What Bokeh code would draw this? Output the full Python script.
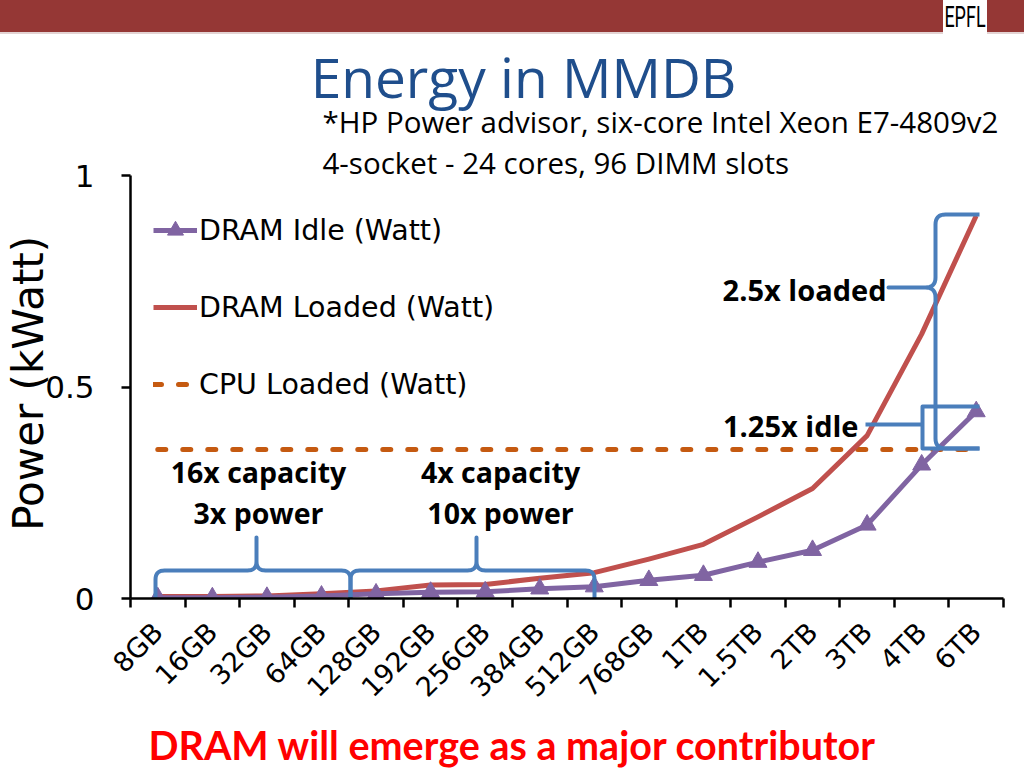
import math
from bokeh.plotting import figure
from bokeh.layouts import column
from bokeh.models import (Range1d, FixedTicker, NumeralTickFormatter, Label,
                          Legend, LegendItem, ColumnDataSource, Div)
from bokeh.embed import file_html
from bokeh.resources import INLINE
from bokeh.core.properties import value

# ---------------- data ----------------
capacities = ["8GB", "16GB", "32GB", "64GB", "128GB", "192GB", "256GB", "384GB",
              "512GB", "768GB", "1TB", "1.5TB", "2TB", "3TB", "4TB", "6TB"]
dram_idle = [0.002, 0.002, 0.003, 0.006, 0.011, 0.015, 0.016, 0.023,
             0.028, 0.043, 0.055, 0.086, 0.114, 0.174, 0.316, 0.442]
dram_loaded = [0.005, 0.005, 0.006, 0.011, 0.018, 0.032, 0.033, 0.048,
               0.061, 0.093, 0.128, 0.193, 0.260, 0.385, 0.625, 0.905]
cpu_loaded = [0.352, 0.352, 0.352, 0.352, 0.352, 0.352, 0.352, 0.352,
              0.352, 0.352, 0.352, 0.352, 0.352, 0.352, 0.352, 0.352]
y_ticks = [0, 0.5, 1]
y_tick_labels = ["0", "0.5", "1"]

# ---------------- layout helpers (page pixels) ----------------
PW = 1024
HEAD_H = 34          # header strip (slide bar + logo)
FOOT_TOP = 720       # footer strip start
FL, FR, FT, FB = 130, 1003, 175, 598   # plot axes box on the page
N = len(capacities)


def rx(X):
    """page pixel x -> data x of main chart"""
    return (X - FL) / (FR - FL) * N - 0.5


def ry(Y):
    """page pixel y -> data y of main chart"""
    return (FB - Y) / (FB - FT)


def quad(p0, c, p1, n=8):
    pts = []
    for i in range(1, n + 1):
        t = i / n
        x = (1 - t) ** 2 * p0[0] + 2 * (1 - t) * t * c[0] + t ** 2 * p1[0]
        y = (1 - t) ** 2 * p0[1] + 2 * (1 - t) * t * c[1] + t ** 2 * p1[1]
        pts.append((x, y))
    return pts


def hbrace(x0, x1, xm, yl, yend, ytip, r=9):
    pts = [(x0, yend), (x0, yl + r)]
    pts += quad((x0, yl + r), (x0, yl), (x0 + r, yl))
    pts.append((xm - r, yl))
    pts += quad((xm - r, yl), (xm, yl), (xm, yl - r))
    pts.append((xm, ytip))
    pts.append((xm, yl - r))
    pts += quad((xm, yl - r), (xm, yl), (xm + r, yl))
    pts.append((x1 - r, yl))
    pts += quad((x1 - r, yl), (x1, yl), (x1, yl + r))
    pts.append((x1, yend))
    return [rx(p[0]) for p in pts], [ry(p[1]) for p in pts]


def vbrace(xl, xend, ytop, ybot, ym, xtip, r=10):
    pts = [(xend, ytop), (xl + r, ytop)]
    pts += quad((xl + r, ytop), (xl, ytop), (xl, ytop + r))
    pts.append((xl, ym - r))
    pts += quad((xl, ym - r), (xl, ym), (xl - r, ym))
    pts.append((xtip, ym))
    pts.append((xl - r, ym))
    pts += quad((xl - r, ym), (xl, ym), (xl, ym + r))
    pts.append((xl, ybot - r))
    pts += quad((xl, ybot - r), (xl, ybot), (xl + r, ybot))
    pts.append((xend, ybot))
    return [rx(p[0]) for p in pts], [ry(p[1]) for p in pts]


AXIS_FONT = "DejaVu Sans"
CAL_FONT = "Open Sans"
PURPLE, RED, ORANGE, BLUE = "#8064A2", "#C0504D", "#C55A11", "#4A7EBB"
BAR = "#953735"

# ---------------- header: slide bar + logo (plain HTML strip) ----------------
head_html = (
    '<div style="position:relative;width:{pw}px;height:{hh}px;'
    'background:#ffffff;margin:0;padding:0;overflow:hidden">'
    '<div style="position:absolute;left:0;top:0;width:{pw}px;height:32px;'
    'background:{bar}"></div>'
    '<div style="position:absolute;left:0;top:32px;width:{pw}px;height:2px;'
    'background:#E3D3D3"></div>'
    '<div style="position:absolute;left:943px;top:0;width:44px;height:34px;'
    'background:#ffffff;color:#000;font:18px Roboto;text-align:center;'
    'line-height:34px">'
    '<span style="display:inline-block;line-height:20px;'
    'transform:scale(1,1.6);transform-origin:center">EPFL</span></div>'
    '</div>'
).format(pw=PW, hh=HEAD_H, bar=BAR)
head = Div(text=head_html, width=PW, height=HEAD_H, margin=0)

# ---------------- main chart ----------------
MAIN_H = FOOT_TOP - HEAD_H
p = figure(width=PW, height=MAIN_H, output_backend="svg", toolbar_location=None,
           x_range=Range1d(-0.5, N - 0.5), y_range=Range1d(0, ry(HEAD_H)),
           min_border_left=FL, min_border_right=PW - FR,
           min_border_top=0, min_border_bottom=FOOT_TOP - FB)
p.outline_line_color = None
p.xgrid.visible = False
p.ygrid.visible = False
p.background_fill_color = "white"
p.border_fill_color = "white"

src = ColumnDataSource(dict(x=list(range(N)), idle=dram_idle,
                            loaded=dram_loaded, cpu=cpu_loaded))

# x axis: labels at category centres, tick marks at category boundaries
xa = p.xaxis[0]
xa.ticker = FixedTicker(ticks=list(range(N)),
                        minor_ticks=[i - 0.5 for i in range(N + 1)])
xa.major_label_overrides = {i: c for i, c in enumerate(capacities)}
xa.major_label_orientation = math.pi / 4
xa.major_tick_line_color = None
xa.major_tick_out = 0
xa.major_tick_in = 0
xa.minor_tick_out = 9
xa.minor_tick_in = 0
xa.minor_tick_line_width = 2.5
xa.minor_tick_line_color = "black"
xa.axis_line_width = 2.5
xa.axis_line_color = "black"
xa.major_label_standoff = 20
xa.major_label_text_font = AXIS_FONT
xa.major_label_text_font_size = "27px"
xa.major_label_text_color = "black"

# y axis (line limited to 0..1; area above holds the slide title)
ya = p.yaxis[0]
ya.bounds = (0, 1)
ya.ticker = FixedTicker(ticks=y_ticks)
ya.major_label_overrides = {t: s for t, s in zip(y_ticks, y_tick_labels)}
ya.formatter = NumeralTickFormatter(format="0.[0]")
ya.minor_tick_line_color = None
ya.major_tick_out = 9
ya.major_tick_in = 0
ya.major_tick_line_width = 2.5
ya.major_tick_line_color = "black"
ya.axis_line_width = 2.5
ya.axis_line_color = "black"
ya.major_label_standoff = 27
ya.major_label_text_font = AXIS_FONT
ya.major_label_text_font_size = "31px"
ya.major_label_text_color = "black"
# trailing no-break spaces shift the centred title down to the 0..1 span
ya.axis_label = "Power (kWatt)" + "\u00a0" * 10
ya.axis_label_text_font = AXIS_FONT
ya.axis_label_text_font_size = "42px"
ya.axis_label_text_font_style = "normal"
ya.axis_label_text_color = "black"
ya.axis_label_standoff = -11

# series
r_cpu = p.line("x", "cpu", source=src, line_color=ORANGE, line_width=5,
               line_dash="8 17", line_cap="round")
r_loaded = p.line("x", "loaded", source=src, line_color=RED, line_width=5,
                  line_join="round")
r_idle = p.line("x", "idle", source=src, line_color=PURPLE, line_width=5,
                line_join="round")
r_idle_m = p.scatter("x", "idle", source=src, marker="triangle", size=18,
                     fill_color=PURPLE, line_color=PURPLE)

legend = Legend(items=[
    LegendItem(label="DRAM Idle (Watt)", renderers=[r_idle, r_idle_m]),
    LegendItem(label="DRAM Loaded (Watt)", renderers=[r_loaded]),
    LegendItem(label="CPU Loaded (Watt)", renderers=[r_cpu]),
], location=(23, 194), padding=0, margin=0, spacing=37,
    label_height=40, glyph_height=40, glyph_width=44, label_standoff=2,
    border_line_color=None, background_fill_alpha=0,
    label_text_font=AXIS_FONT, label_text_font_size="28.5px",
    label_text_color="black")
p.add_layout(legend)

# braces
bx, by = [], []
for args in [(155, 350, 256, 570, 601, 537), (350, 594, 476, 570, 601, 537)]:
    xs, ys = hbrace(*args)
    bx.append(xs)
    by.append(ys)
xs, ys = vbrace(935, 979, 214, 448, 287, 888)
bx.append(xs)
by.append(ys)
bx.append([rx(979), rx(922), rx(922), rx(979)])
by.append([ry(406), ry(406), ry(448), ry(448)])
bx.append([rx(865), rx(922)])
by.append([ry(424), ry(424)])
p.multi_line(bx, by, line_color=BLUE, line_width=4, line_join="round")


def add_label(X, Y, text, size, align="center", color="black", bold=True,
              font=CAL_FONT):
    p.add_layout(Label(x=rx(X), y=ry(Y), text=text, text_align=align,
                       text_baseline="middle", text_font=font,
                       text_font_size=size, text_color=color,
                       text_font_style="bold" if bold else "normal"))


add_label(886, 289, "2.5x loaded", "29px", align="right")
add_label(858, 425, "1.25x idle", "29px", align="right")
add_label(258, 471, "16x capacity", "28.5px")
add_label(258, 512, "3x power", "28.5px")
add_label(500, 471, "4x capacity", "28.5px")
add_label(500, 512, "10x power", "28.5px")

# slide title and note (upper part of the chart area)
add_label(523, 76, "Energy in MMDB", "55px", color="#1F4E8C", bold=False)
add_label(322, 121, "*HP Power advisor, six-core Intel Xeon E7-4809v2", "29.5px",
          align="left", bold=False)
add_label(322, 162, "4-socket - 24 cores, 96 DIMM slots", "29.5px",
          align="left", bold=False)

# ---------------- footer ----------------
foot = figure(width=PW, height=768 - FOOT_TOP, output_backend="svg",
              toolbar_location=None, x_range=Range1d(FL, FR),
              y_range=Range1d(768, FOOT_TOP),
              x_axis_location=None, y_axis_location=None,
              min_border=0, min_border_left=FL, min_border_right=PW - FR,
              min_border_top=0, min_border_bottom=0)
foot.outline_line_color = None
foot.grid.visible = False
foot.text(x=[512], y=[744], text=["DRAM will emerge as a major contributor"],
          text_align="center", text_baseline="middle",
          text_font=value("Lato"), text_font_size="39.5px",
          text_font_style="bold", text_color="#FF0000")

layout = column(head, p, foot, spacing=0)
open("out.html", "w").write(file_html(layout, INLINE))
